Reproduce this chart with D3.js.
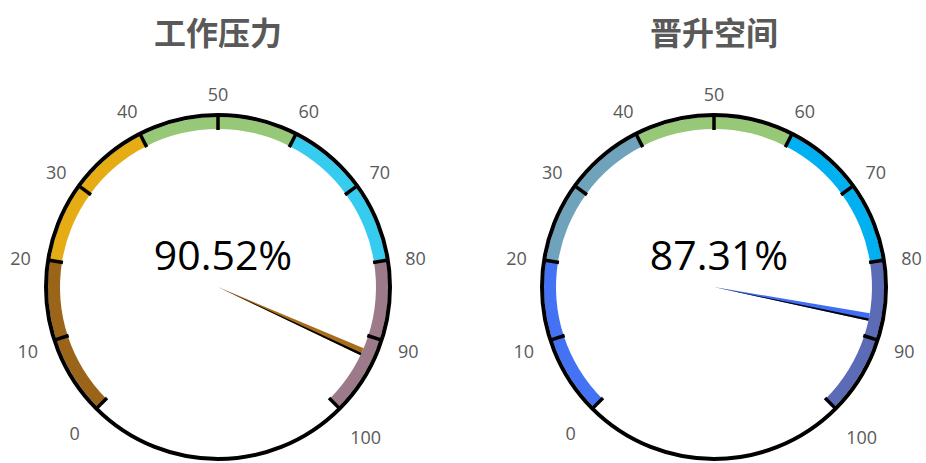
<!DOCTYPE html>
<html>
<head>
<meta charset="utf-8">
<script src="https://cdn.jsdelivr.net/npm/d3@7"></script>
<style>
  body { margin: 0; background: #fff; }
  svg { display: block; }
</style>
</head>
<body>
<svg></svg>
<script>
const W = 926, H = 463;

// 数据
const titles = ["工作压力", "晋升空间"];
const readouts = [90.52, 87.31];
const needleAt = [92.3, 87.4];      // 指针在图上的位置
const bandStops = [0, 20, 40, 60, 80, 100];
const bandColors = [
  ["#9b6519", "#e5ac14", "#96c878", "#35ccf0", "#9c7a8a"],
  ["#4472f5", "#6fa3bc", "#96c878", "#00b0f0", "#5b6bb5"]
];
const needleColors = ["#a86d1c", "#3f6ef5"];
const tickValues = d3.range(0, 101, 10);

const svg = d3.select("svg").attr("width", W).attr("height", H);

const R = 172;        // 外圈半径
const bandOuter = 170, bandInner = 158;
const centers = [[218, 287], [714, 287]];

// 0 -> -135°, 100 -> +135°
const angle = d3.scaleLinear().domain([0, 100]).range([-135, 135]);
const rad = d => angle(d) * Math.PI / 180;

const arc = d3.arc().innerRadius(bandInner).outerRadius(bandOuter);

titles.forEach((title, i) => {
  const [cx, cy] = centers[i];
  const g = svg.append("g").attr("transform", `translate(${cx},${cy})`);

  svg.append("text")
    .attr("x", cx).attr("y", 45)
    .attr("text-anchor", "middle")
    .style("font-family", "'Noto Sans CJK SC', sans-serif")
    .style("font-weight", "bold")
    .style("font-size", "32px")
    .style("fill", "#595959")
    .text(title);

  // 彩色色带
  g.selectAll("path.band")
    .data(bandColors[i])
    .enter().append("path")
    .attr("class", "band")
    .attr("d", (c, j) => arc({ startAngle: rad(bandStops[j]), endAngle: rad(bandStops[j + 1]) }))
    .attr("fill", c => c);

  // 外圈
  g.append("circle")
    .attr("r", R)
    .attr("fill", "none")
    .attr("stroke", "#000")
    .attr("stroke-width", 4);

  // 刻度线
  g.selectAll("line.tick")
    .data(tickValues)
    .enter().append("line")
    .attr("class", "tick")
    .attr("x1", d => Math.sin(rad(d)) * (bandInner - 1))
    .attr("y1", d => -Math.cos(rad(d)) * (bandInner - 1))
    .attr("x2", d => Math.sin(rad(d)) * R)
    .attr("y2", d => -Math.cos(rad(d)) * R)
    .attr("stroke", "#000")
    .attr("stroke-width", 3.5);

  // 刻度文字
  const labels = g.selectAll("text.lbl")
    .data(tickValues)
    .enter().append("text")
    .attr("class", "lbl")
    .attr("text-anchor", "middle")
    .attr("dy", "0.35em")
    .style("font-family", "'Open Sans', sans-serif")
    .style("font-size", "18px")
    .style("fill", "#595959")
    .text(d => d);
  labels.each(function(d) {
    const w = this.getBBox().width;
    const a = rad(d);
    const s = Math.min(1, 2.5 * Math.abs(Math.sin(a)));
    let r = 192 + 8 * s;
    if (Math.cos(a) < -0.5) r += Math.abs(Math.sin(a)) * w * 0.4;
    d3.select(this)
      .attr("x", Math.sin(a) * r)
      .attr("y", -Math.cos(a) * r + 3 * s);
  });

  // 指针
  const a = rad(needleAt[i]);
  const len = 158, half = 1.4 * Math.PI / 180;
  const pt = (ang, r) => [Math.sin(ang) * r, -Math.cos(ang) * r];
  g.append("path")
    .attr("d", d3.line()([[0, 0], pt(a - half, len), pt(a + half, len)]) + "Z")
    .attr("fill", needleColors[i]);
  g.append("path")
    .attr("d", d3.line()([[0, 0], pt(a + half * 0.35, len), pt(a + half, len)]) + "Z")
    .attr("fill", "#000");

  // 中心数值
  g.append("text")
    .attr("x", 5).attr("y", -17)
    .attr("text-anchor", "middle")
    .style("font-family", "'Open Sans', sans-serif")
    .style("font-size", "41px")
    .style("fill", "#000")
    .text(readouts[i].toFixed(2) + "%");
});
</script>
</body>
</html>
